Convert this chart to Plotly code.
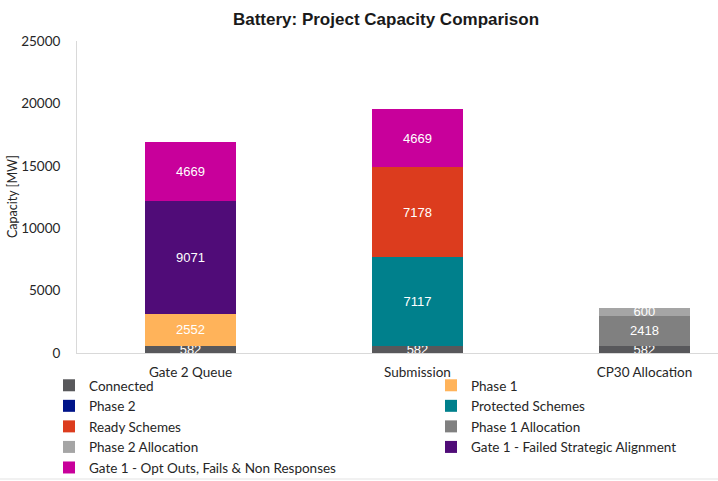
import plotly.graph_objects as go

categories = ["Gate 2 Queue", "Submission", "CP30 Allocation"]
series_names = [
    "Connected", "Phase 1", "Phase 2", "Protected Schemes", "Ready Schemes",
    "Phase 1 Allocation", "Phase 2 Allocation",
    "Gate 1 - Failed Strategic Alignment", "Gate 1 - Opt Outs, Fails & Non Responses",
]
connected = [582, 582, 582]
phase1 = [2552, None, None]
phase2 = [None, None, None]
protected = [None, 7117, None]
ready = [None, 7178, None]
phase1_alloc = [None, None, 2418]
phase2_alloc = [None, None, 600]
gate1_failed = [9071, None, None]
gate1_optouts = [4669, 4669, None]

values = [connected, phase1, phase2, protected, ready, phase1_alloc, phase2_alloc,
          gate1_failed, gate1_optouts]
colors = ["#58585B", "#FFB35A", "#001489", "#00808C", "#DC3C1E", "#808080", "#A5A5A5",
          "#500C78", "#C8009B"]
legend_col = ["legend", "legend2", "legend", "legend2", "legend", "legend2", "legend",
              "legend2", "legend"]

LEG_FONT = dict(family="Lato, Noto Sans, sans-serif", size=13.5, color="#262626")

fig = go.Figure()
for name, vals, col, lg in zip(series_names, values, colors, legend_col):
    fig.add_trace(go.Bar(
        name=name, x=categories, y=vals, marker=dict(color=col, line=dict(width=0)),
        text=[("" if v is None else str(v)) for v in vals],
        textposition="inside", insidetextanchor="middle", constraintext="none",
        textangle=0,
        textfont=dict(family="Liberation Sans, Arial, sans-serif", size=13, color="white"),
        width=0.4, legend=lg, hoverinfo="skip",
    ))

fig.update_layout(
    barmode="stack",
    width=718, height=481,
    margin=dict(l=77, r=0, t=41, b=128, autoexpand=False),
    paper_bgcolor="white", plot_bgcolor="white",
    title=dict(text="<b>Battery: Project Capacity Comparison</b>",
               x=386 / 718, xanchor="center", xref="container",
               y=1 - 19 / 481, yanchor="middle", yref="container",
               font=dict(family="Liberation Sans, Arial, sans-serif", size=17, color="#1a1a1a")),
    xaxis=dict(range=[-0.5, 2.324], showgrid=False, showline=True, linecolor="#D9D9D9",
               linewidth=1, ticks="", tickangle=0, automargin=False,
               tickfont=dict(family="Lato, Noto Sans, sans-serif",
               size=13.5, color="#262626"), ticklabelstandoff=7, fixedrange=True),
    yaxis=dict(range=[0, 25000], dtick=5000, tickformat="d", showgrid=False, showline=True,
               linecolor="#D9D9D9", linewidth=1, ticks="", zeroline=False, automargin=False,
               tickfont=dict(family="Lato, Noto Sans, sans-serif", size=13.5, color="#262626"),
               ticklabelstandoff=13),
    legend=dict(x=49 / 718, xref="container", xanchor="left",
                y=1 - 370 / 481, yref="container", yanchor="top", traceorder="normal",
                orientation="v", font=LEG_FONT, bgcolor="rgba(0,0,0,0)",
                itemclick=False, itemdoubleclick=False, tracegroupgap=0),
    legend2=dict(x=431 / 718, xref="container", xanchor="left",
                 y=1 - 370 / 481, yref="container", yanchor="top", traceorder="normal",
                 orientation="v", font=LEG_FONT, bgcolor="rgba(0,0,0,0)",
                 itemclick=False, itemdoubleclick=False, tracegroupgap=0),
    showlegend=True,
)
fig.add_annotation(text="Capacity [MW]", textangle=-90, xref="paper", yref="paper",
                   x=-65 / 641, y=0.5, xanchor="center", yanchor="middle", showarrow=False,
                   font=dict(family="Lato, Noto Sans, sans-serif", size=12.5, color="#262626"))
fig.add_shape(type="line", xref="paper", yref="paper", x0=-77 / 641, x1=1,
              y0=-126 / 312, y1=-126 / 312, line=dict(color="#E3E3E3", width=1))

fig.write_html("out.html")
